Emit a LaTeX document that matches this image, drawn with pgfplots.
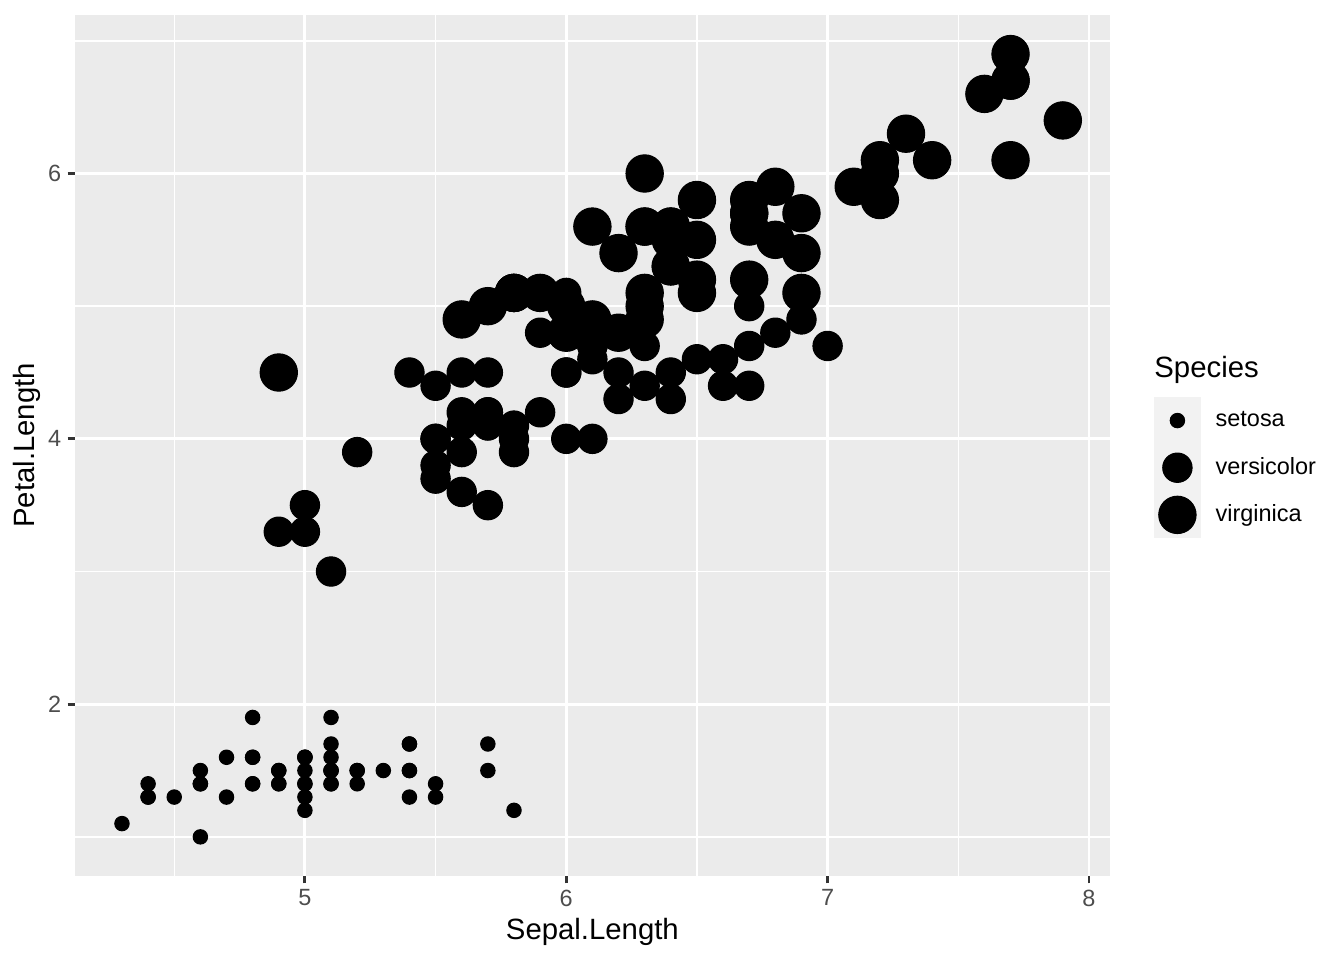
\documentclass[border=0pt]{standalone}
\usepackage{pgfplots}
\pgfplotsset{compat=1.18}
\usepackage{fontspec}
\setmainfont{Liberation Sans}

\definecolor{panelbg}{HTML}{EBEBEB}
\definecolor{keybg}{HTML}{F2F2F2}
\definecolor{tickcol}{HTML}{333333}
\definecolor{ticklab}{HTML}{4D4D4D}

\pgfplotstableread{
x y
5.1 1.4
4.9 1.4
4.7 1.3
4.6 1.5
5.0 1.4
5.4 1.7
4.6 1.4
5.0 1.5
4.4 1.4
4.9 1.5
5.4 1.5
4.8 1.6
4.8 1.4
4.3 1.1
5.8 1.2
5.7 1.5
5.4 1.3
5.1 1.4
5.7 1.7
5.1 1.5
5.4 1.7
5.1 1.5
4.6 1.0
5.1 1.7
4.8 1.9
5.0 1.6
5.0 1.6
5.2 1.5
5.2 1.4
4.7 1.6
4.8 1.6
5.4 1.5
5.2 1.5
5.5 1.4
4.9 1.5
5.0 1.2
5.5 1.3
4.9 1.4
4.4 1.3
5.1 1.5
5.0 1.3
4.5 1.3
4.4 1.3
5.0 1.6
5.1 1.9
4.8 1.4
5.1 1.6
4.6 1.4
5.3 1.5
5.0 1.4
}\setosa

\pgfplotstableread{
x y
7.0 4.7
6.4 4.5
6.9 4.9
5.5 4.0
6.5 4.6
5.7 4.5
6.3 4.7
4.9 3.3
6.6 4.6
5.2 3.9
5.0 3.5
5.9 4.2
6.0 4.0
6.1 4.7
5.6 3.6
6.7 4.4
5.6 4.5
5.8 4.1
6.2 4.5
5.6 3.9
5.9 4.8
6.1 4.0
6.3 4.9
6.1 4.7
6.4 4.3
6.6 4.4
6.8 4.8
6.7 5.0
6.0 4.5
5.7 3.5
5.5 3.8
5.5 3.7
5.8 3.9
6.0 5.1
5.4 4.5
6.0 4.5
6.7 4.7
6.3 4.4
5.6 4.1
5.5 4.0
5.5 4.4
6.1 4.6
5.8 4.0
5.0 3.3
5.6 4.2
5.7 4.2
5.7 4.2
6.2 4.3
5.1 3.0
5.7 4.1
}\versicolor

\pgfplotstableread{
x y
6.3 6.0
5.8 5.1
7.1 5.9
6.3 5.6
6.5 5.8
7.6 6.6
4.9 4.5
7.3 6.3
6.7 5.8
7.2 6.1
6.5 5.1
6.4 5.3
6.8 5.5
5.7 5.0
5.8 5.1
6.4 5.3
6.5 5.5
7.7 6.7
7.7 6.9
6.0 5.0
6.9 5.7
5.6 4.9
7.7 6.7
6.3 4.9
6.7 5.7
7.2 6.0
6.2 4.8
6.1 4.9
6.4 5.6
7.2 5.8
7.4 6.1
7.9 6.4
6.4 5.6
6.3 5.1
6.1 5.6
7.7 6.1
6.3 5.6
6.4 5.5
6.0 4.8
6.9 5.4
6.7 5.6
6.9 5.1
5.8 5.1
6.8 5.9
6.7 5.7
6.7 5.2
6.3 5.0
6.5 5.2
6.2 5.4
5.9 5.1
}\virginica

\begin{document}
\begin{tikzpicture}
\path[use as bounding box] (-28.1pt,-31.5pt) rectangle (475.9pt,328.5pt);
\begin{axis}[
    name=main,
    scale only axis,
    width=388.1pt, height=322.9pt,
    xmin=4.12, xmax=8.08,
    ymin=0.705, ymax=7.195,
    xtick={5,6,7,8}, ytick={2,4,6},
    minor xtick={4.5,5.5,6.5,7.5},
    minor ytick={1,3,5,7},
    grid=both,
    major grid style={white, line width=1.07pt},
    minor grid style={white, line width=0.53pt},
    axis line style={draw=none},
    axis background/.style={fill=panelbg},
    tick align=outside,
    tick pos=left,
    major tick length=2.75pt,
    minor tick length=0pt,
    major tick style={tickcol, line width=1.07pt},
    minor tick style={draw=none},
    /pgf/number format/assume math mode=true,
    ticklabel style={font=\fontsize{8.8}{10}\selectfont, text=ticklab, inner sep=0pt},
    xticklabel style={anchor=north, yshift=-2.2pt},
    yticklabel style={anchor=east, xshift=-2.2pt},
    xlabel={Sepal.Length},
    ylabel={Petal.Length},
    label style={font=\fontsize{11}{13}\selectfont},
    xlabel style={at={(axis description cs:0.5,-0.0743)}, anchor=base},
    ylabel style={at={(axis description cs:-0.0387,0.5)}, anchor=base},
    legend style={draw=none, fill=none, inner sep=0pt, outer sep=0pt,
        row sep=0pt, column sep=5.5pt,
        font=\fontsize{8.8}{10}\selectfont,
        at={(axis description cs:1.0425,0.5563)}, anchor=north west,
        nodes={inner sep=0pt}},
    legend cell align=left,
]
\addplot[only marks, mark=*, mark size=2.7pt, mark options={draw=none, fill=black},
    legend image code/.code={\fill[keybg] (-8.64pt,-8.64pt) rectangle (8.64pt,8.64pt);
      \fill[black] (0,0) circle (2.7pt);}]
    table[x=x, y=y] {\setosa};
\addlegendentry{setosa}
\addplot[only marks, mark=*, mark size=5.5pt, mark options={draw=none, fill=black},
    legend image code/.code={\fill[keybg] (-8.64pt,-8.64pt) rectangle (8.64pt,8.64pt);
      \fill[black] (0,0) circle (5.5pt);}]
    table[x=x, y=y] {\versicolor};
\addlegendentry{versicolor}
\addplot[only marks, mark=*, mark size=7.0pt, mark options={draw=none, fill=black},
    legend image code/.code={\fill[keybg] (-8.64pt,-8.64pt) rectangle (8.64pt,8.64pt);
      \fill[black] (0,0) circle (7.0pt);}]
    table[x=x, y=y] {\virginica};
\addlegendentry{virginica}
\end{axis}
\path (main.south west) ++(404.6pt,186.8pt)
    node[anchor=base west, inner sep=0pt, font=\fontsize{11}{13}\selectfont] {Species};
\end{tikzpicture}
\end{document}
